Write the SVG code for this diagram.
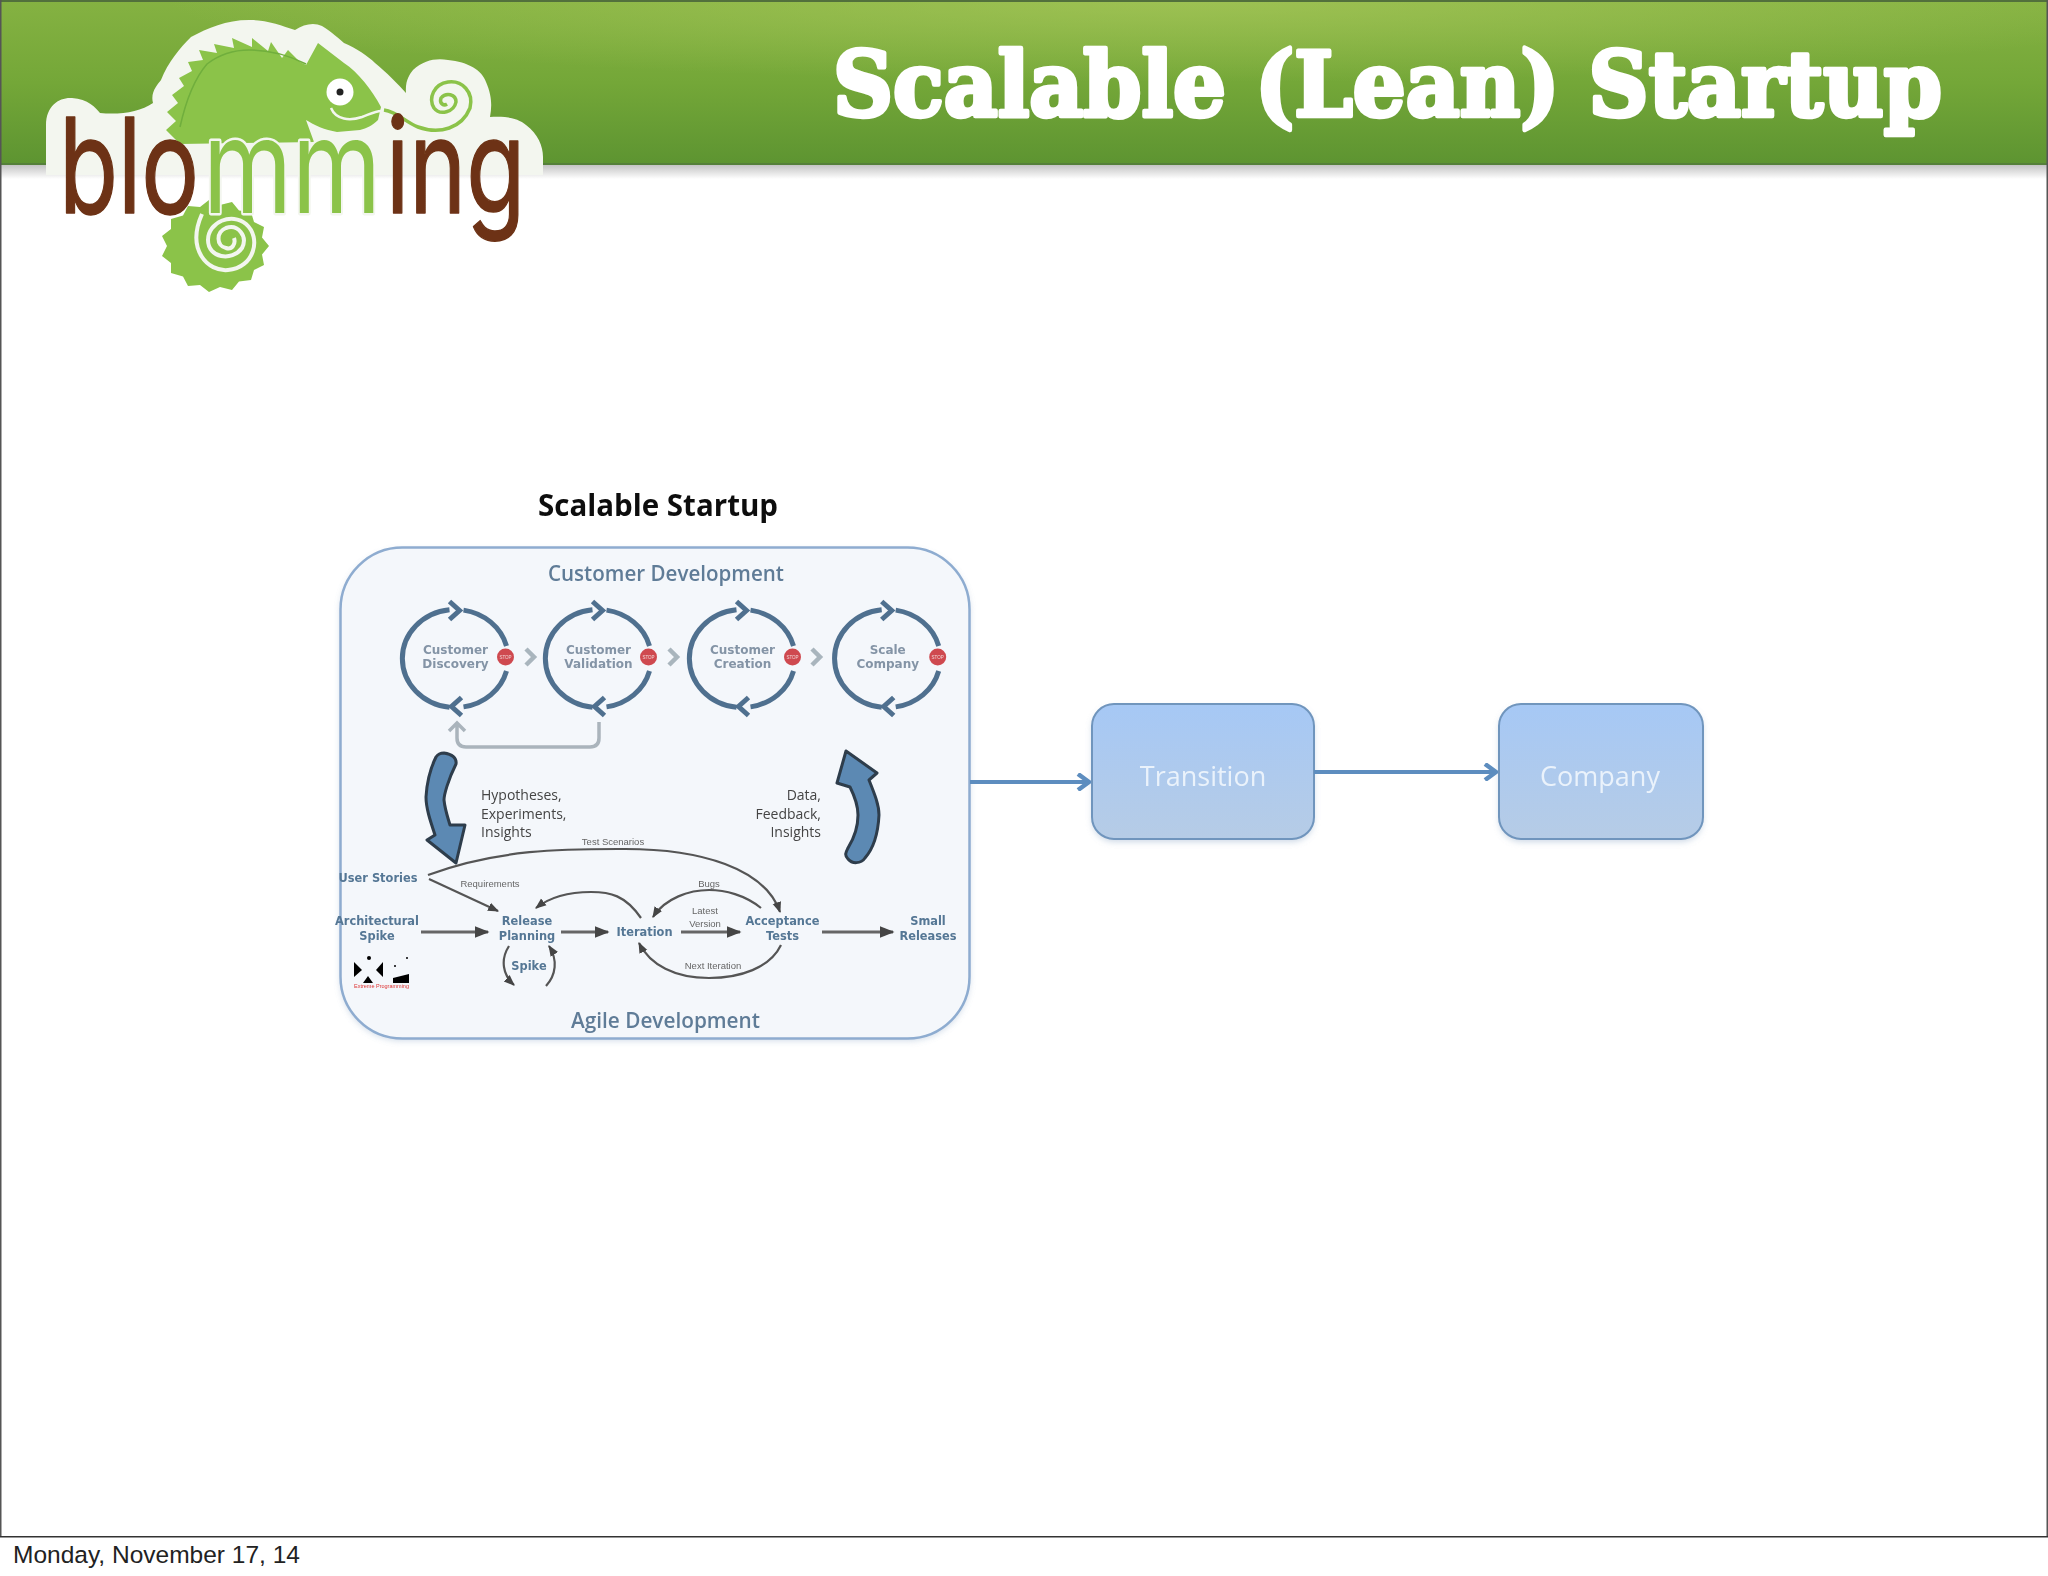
<svg xmlns="http://www.w3.org/2000/svg" width="2048" height="1576" viewBox="0 0 2048 1576">
<style>
.cyc{fill:none;stroke:#50708f;stroke-width:5}
.chev{fill:none;stroke:#a9b5bd;stroke-width:4.5}
.st{font-family:"DejaVu Sans",sans-serif;font-weight:700;font-size:12px;fill:#8494a6;text-anchor:middle}
.ag{font-family:"DejaVu Sans",sans-serif;font-weight:700;font-size:11.4px;fill:#557795;text-anchor:middle}
.sm{font-family:"Liberation Sans",sans-serif;font-size:9.5px;fill:#666;text-anchor:middle}
.md{font-family:"Open Sans",sans-serif;font-size:14px;fill:#444}
.hd{font-family:"Open Sans",sans-serif;font-weight:600;font-size:22px;fill:#5f7b97}
.ln{fill:none;stroke:#555;stroke-width:2.2}
.bar{fill:none;stroke:#666;stroke-width:3}
.big{fill:#5b89b3;stroke:#2d3c4c;stroke-width:3;stroke-linejoin:round}
.stop{fill:#cf4a50}
.stx{font-family:"Liberation Sans",sans-serif;font-size:4.5px;fill:#f1d5d5;text-anchor:middle}
.box{stroke:#7095bd;stroke-width:2}
.bt{font-family:"Open Sans",sans-serif;font-size:27px;fill:#eaf2fb;text-anchor:middle}
.flow{fill:none;stroke:#5d8dbf;stroke-width:4}
.lg{font-family:Inter,sans-serif;font-weight:400;font-size:132px;stroke-linejoin:round}
</style>
<defs>
<linearGradient id="hdr" x1="0" y1="0" x2="0" y2="1"><stop offset="0" stop-color="#85b242"/><stop offset="0.5" stop-color="#74a738"/><stop offset="1" stop-color="#5d9431"/></linearGradient>
<radialGradient id="glow" cx="0.58" cy="0" r="0.5"><stop offset="0" stop-color="#a8c85a" stop-opacity="0.7"/><stop offset="1" stop-color="#a8c85a" stop-opacity="0"/></radialGradient>
<linearGradient id="shade" x1="0" y1="0" x2="0" y2="1"><stop offset="0" stop-color="#c4c4c4"/><stop offset="1" stop-color="#fff"/></linearGradient>
<linearGradient id="brown" gradientUnits="userSpaceOnUse" x1="0" y1="115" x2="0" y2="240"><stop offset="0" stop-color="#6d3316"/><stop offset="1" stop-color="#96532b"/></linearGradient>
<linearGradient id="bf" x1="0" y1="0" x2="0" y2="1"><stop offset="0" stop-color="#a6c8f5"/><stop offset="1" stop-color="#b6cce6"/></linearGradient>
<filter id="soft" x="-5%" y="-5%" width="110%" height="110%"><feGaussianBlur stdDeviation="0.6"/></filter>
<filter id="sh" x="-10%" y="-10%" width="120%" height="120%"><feGaussianBlur stdDeviation="3"/></filter>
<marker id="a" viewBox="0 0 10 10" refX="9" refY="5" markerWidth="5" markerHeight="5" orient="auto-start-reverse"><path d="M0,1 L10,5 L0,9 Z" fill="#444"/></marker>
<marker id="fa" viewBox="0 0 16 18" refX="15" refY="9" markerUnits="userSpaceOnUse" markerWidth="16" markerHeight="18" orient="auto"><path d="M3,1 L14,9 L3,17" fill="none" stroke="#5d8dbf" stroke-width="4.5"/></marker>
<g id="ring">
<path class="cyc" d="M-6,48.7 A53,49 0 0 1 -6,-48.7 M8,-48.4 A53,49 0 0 1 51,-12.5 M51,12.5 A53,49 0 0 1 8,48.4 M-6,-57 L4,-48 L-6,-39 M6,39 L-4,48 L6,57"/>
<circle class="stop" cx="50" cy="-1.5" r="8.5"/>
<text class="stx" x="50" y="0">STOP</text>
</g>
</defs>

<g id="slide">
<rect width="2048" height="1576" fill="#fff"/>
<rect width="2048" height="165" fill="url(#hdr)"/>
<rect width="2048" height="165" fill="url(#glow)"/>
<rect y="0" width="2048" height="2" fill="#52703c"/>
<rect y="165" width="2048" height="14" fill="url(#shade)"/>
<rect y="163" width="2048" height="2" fill="#55803a"/>
<rect x="0" y="0" width="1.5" height="1536" fill="#555"/>
<rect x="2046.5" y="0" width="1.5" height="1536" fill="#555"/>
<rect y="1536" width="2048" height="1.5" fill="#333"/>
<text id="title" x="833" y="116" textLength="1109" lengthAdjust="spacingAndGlyphs" font-family="'DejaVu Serif',serif" font-weight="700" font-size="90" fill="#fff" stroke="#fff" stroke-width="4.5" stroke-linejoin="round">Scalable (Lean) Startup</text>
<text id="footer" x="13" y="1563" font-family="'Liberation Sans',sans-serif" font-size="24.5" fill="#222">Monday, November 17, 14</text>
</g>

<g id="logo" filter="url(#soft)">
<path d="M46,125 C46,105 60,97 72,98 C88,99 96,108 100,113 C120,115 140,112 153,103 C150,92 158,84 161,80 C168,62 180,48 191,37 C208,28 226,20 249,20 C268,20 282,26 295,30 C304,24 314,22 322,26 C332,32 338,38 344,43 C356,48 368,56 375,63 C386,72 398,84 406,93 C405,80 410,74 413,70 C424,60 436,58 448,60 C468,62 482,70 486,82 C492,96 492,106 490,117 C505,116 518,118 526,125 C538,134 543,146 543,157 L543,175 L46,175 Z" fill="#f3f6ef"/>
<path d="M166,130 L176,121 L167,112 L178,103 L172,95 L184,86 L179,78 L192,71 L188,62 L203,60 L199,50 L217,53 L214,44 L234,48 L232,38 L252,47 L252,38 L268,51 L271,42 L282,58 L288,50 L300,62 L306,65 L318,43 L344,63 C358,72 372,90 381,107 L378,120 C372,126 367,128 360,130 L337,132 C325,130 314,125 306,120 L314,142 L180,144 Z" fill="#8bc34a"/>
<path d="M180,127 C186,100 195,78 207,64 C220,54 235,50 249,50 C270,50 290,56 306,64" fill="none" stroke="#70ae3c" stroke-width="1.5"/>
<circle cx="340" cy="92" r="13.5" fill="#fff"/><circle cx="340" cy="92" r="3.5" fill="#222"/>
<path d="M331,108 C336,120 350,121 362,117 C370,114 376,111 381,111" fill="none" stroke="#f3f6ef" stroke-width="2.5"/>
<path d="M384,110 C398,112 405,122 418,127 C440,135 462,128 470,108 C474,92 462,80 448,82 C434,84 428,98 434,108 C440,116 454,112 456,102 C456,94 446,92 441,98 C439,104 444,106 447,104" fill="none" stroke="#8bc34a" stroke-width="3.5"/>
<path d="M161,213 L269,246 L262,254.5 L264,265 L254,270 L251,280 L239,281.5 L232,290 L220,287 L209,292 L200,285 L188,286 L183,276.5 L171,273 L171,263 L162,256 L167,246 L162,236 L171,229 L171,219 L183,215.5 L188,206 L200,207 L209,200 L220,205 L232,202 L239,210.5 L251,212 L254,222 L264,227 L262,237.5 L269,246 Z" fill="#8bc34a"/>
<path d="M202,214 C186,250 208,272 228,270 C254,268 262,238 246,224 C232,212 208,222 208,240 C208,258 232,262 242,248 C248,236 238,224 226,228 C216,232 216,246 226,248 C232,250 236,244 234,238" fill="none" stroke="#f3f6ef" stroke-width="4"/>
<text class="lg" transform="translate(59,213) scale(.73,1)" fill="url(#brown)" stroke="url(#brown)" stroke-width="1.5">blo</text>
<text class="lg" transform="translate(203,213) scale(.77,1)" fill="#8bc34a" stroke="#f3f6ef" stroke-width="5" paint-order="stroke">mm</text>
<text class="lg" transform="translate(386,213) scale(.73,1)" fill="url(#brown)" stroke="url(#brown)" stroke-width="1.5">ing</text>
</g>

<g id="scalable-startup" filter="url(#soft)">
<rect x="340" y="550" width="630" height="491" rx="62" fill="#9db4cf" opacity=".45" filter="url(#sh)"/>
<rect id="outer-box" x="340.5" y="547.5" width="629" height="491" rx="62" fill="#f4f7fb" stroke="#8eacd0" stroke-width="2.5"/>
<text x="538" y="516" textLength="240" lengthAdjust="spacingAndGlyphs" font-family="'Open Sans',sans-serif" font-weight="700" font-size="30" fill="#111">Scalable Startup</text>
<text class="hd" x="548" y="581" textLength="236" lengthAdjust="spacingAndGlyphs">Customer Development</text>
<text class="hd" x="571" y="1028" textLength="189" lengthAdjust="spacingAndGlyphs">Agile Development</text>

<g id="customer-discovery">
<use href="#ring" x="455.5" y="658.5"/>
<text class="st" x="455.5" y="654">Customer</text><text class="st" x="455.5" y="668">Discovery</text>
</g>
<path class="chev" d="M526,649 L534,657 L526,665"/>
<g id="customer-validation">
<use href="#ring" x="598.5" y="658.5"/>
<text class="st" x="598.5" y="654">Customer</text><text class="st" x="598.5" y="668">Validation</text>
</g>
<path class="chev" d="M669,649 L677,657 L669,665"/>
<g id="customer-creation">
<use href="#ring" x="742.5" y="658.5"/>
<text class="st" x="742.5" y="654">Customer</text><text class="st" x="742.5" y="668">Creation</text>
</g>
<path class="chev" d="M812,649 L820,657 L812,665"/>
<g id="scale-company">
<use href="#ring" x="887.7" y="658.5"/>
<text class="st" x="887.7" y="654">Scale</text><text class="st" x="887.7" y="668">Company</text>
</g>
<path d="M599,722 L599,738 Q599,747 590,747 L466,747 Q457,747 457,738 L457,724 M449,731 L457,723 L465,731" fill="none" stroke="#aab4bc" stroke-width="3.5"/>

<path class="big" d="M444,753 C452,754 457,758 456,764 C448,780 444,795 444,800 C445,810 448,818 450,825 L465,825 L456,863 L427,840 L435,835 C430,820 426,808 426,797 C427,780 432,765 436,757 C438,754 441,753 444,753 Z"/>
<path class="big" d="M846,751 L877,773 L869,780 C875,795 879,805 879,815 C878,835 872,850 865,858 C861,864 852,864 848,859 C844,855 846,852 848,848 C856,835 858,825 858,815 C858,805 854,795 850,787 L837,783 Z"/>
<text class="md" x="481" y="800">Hypotheses,</text><text class="md" x="481" y="819">Experiments,</text><text class="md" x="481" y="837">Insights</text>
<text class="md" x="821" y="800" text-anchor="end">Data,</text><text class="md" x="821" y="819" text-anchor="end">Feedback,</text><text class="md" x="821" y="837" text-anchor="end">Insights</text>

<text class="ag" x="378" y="882">User Stories</text>
<text class="ag" x="377" y="925">Architectural</text><text class="ag" x="377" y="940">Spike</text>
<text class="ag" x="527" y="925">Release</text><text class="ag" x="527" y="940">Planning</text>
<text class="ag" x="644.5" y="936">Iteration</text>
<text class="ag" x="782.5" y="925">Acceptance</text><text class="ag" x="782.5" y="940">Tests</text>
<text class="ag" x="928" y="925">Small</text><text class="ag" x="928" y="940">Releases</text>
<text class="ag" x="529" y="970">Spike</text>
<text class="sm" x="613" y="845">Test Scenarios</text>
<text class="sm" x="490" y="887">Requirements</text>
<text class="sm" x="709" y="887">Bugs</text>
<text class="sm" x="705" y="914">Latest</text><text class="sm" x="705" y="927">Version</text>
<text class="sm" x="713" y="969">Next Iteration</text>

<g id="xp-logo">
<path d="M354,962 L362,970 L354,977 Z M383,962 L376,970 L383,977 Z M368,976 L373,983 L363,983 Z M393,978 L409,974 L409,983 L393,983 Z"/>
<circle cx="369" cy="958" r="2"/><circle cx="407" cy="958" r="1"/><circle cx="395" cy="966" r="1"/>
<text x="354" y="988" textLength="55" lengthAdjust="spacingAndGlyphs" font-family="'Liberation Sans',sans-serif" font-size="6" fill="#d33">Extreme Programming</text>
</g>
</g>

<g id="transition" filter="url(#soft)"><rect x="1092" y="707" width="222" height="135" rx="22" fill="#9db4cf" opacity=".5" filter="url(#sh)"/><rect class="box" x="1092" y="704" width="222" height="135" rx="22" fill="url(#bf)"/><text class="bt" x="1203" y="786">Transition</text></g>
<g id="company" filter="url(#soft)"><rect x="1499" y="707" width="204" height="135" rx="22" fill="#9db4cf" opacity=".5" filter="url(#sh)"/><rect class="box" x="1499" y="704" width="204" height="135" rx="22" fill="url(#bf)"/><text class="bt" x="1600" y="786">Company</text></g>

<g id="connectors">
<g filter="url(#soft)">
<path class="ln" d="M428,875 C500,848 570,849 625,849 C700,849 765,868 780,912" marker-end="url(#a)"/>
<path class="ln" d="M429,879 L498,911" marker-end="url(#a)"/>
<path class="ln" d="M641,918 C625,895 610,892 591,892 C570,892 550,897 536,908" marker-end="url(#a)"/>
<path class="ln" d="M761,908 C745,895 725,890 709,890 C690,890 665,898 653,917" marker-end="url(#a)"/>
<path class="ln" d="M781,945 C770,968 740,978 709,978 C675,978 650,965 639,943" marker-end="url(#a)"/>
<path class="ln" d="M509,946 C500,960 503,975 514,985" marker-end="url(#a)"/>
<path class="ln" d="M546,986 C556,975 558,960 549,946" marker-end="url(#a)"/>
<path class="bar" d="M421,932 L488,932" marker-end="url(#a)"/>
<path class="bar" d="M561,932 L608,932" marker-end="url(#a)"/>
<path class="bar" d="M681,932 L740,932" marker-end="url(#a)"/>
<path class="bar" d="M822,932 L893,932" marker-end="url(#a)"/>
</g>
<path class="flow" d="M970,782 L1090,782" marker-end="url(#fa)"/>
<path class="flow" d="M1314,772 L1497,772" marker-end="url(#fa)"/>
</g>
</svg>
